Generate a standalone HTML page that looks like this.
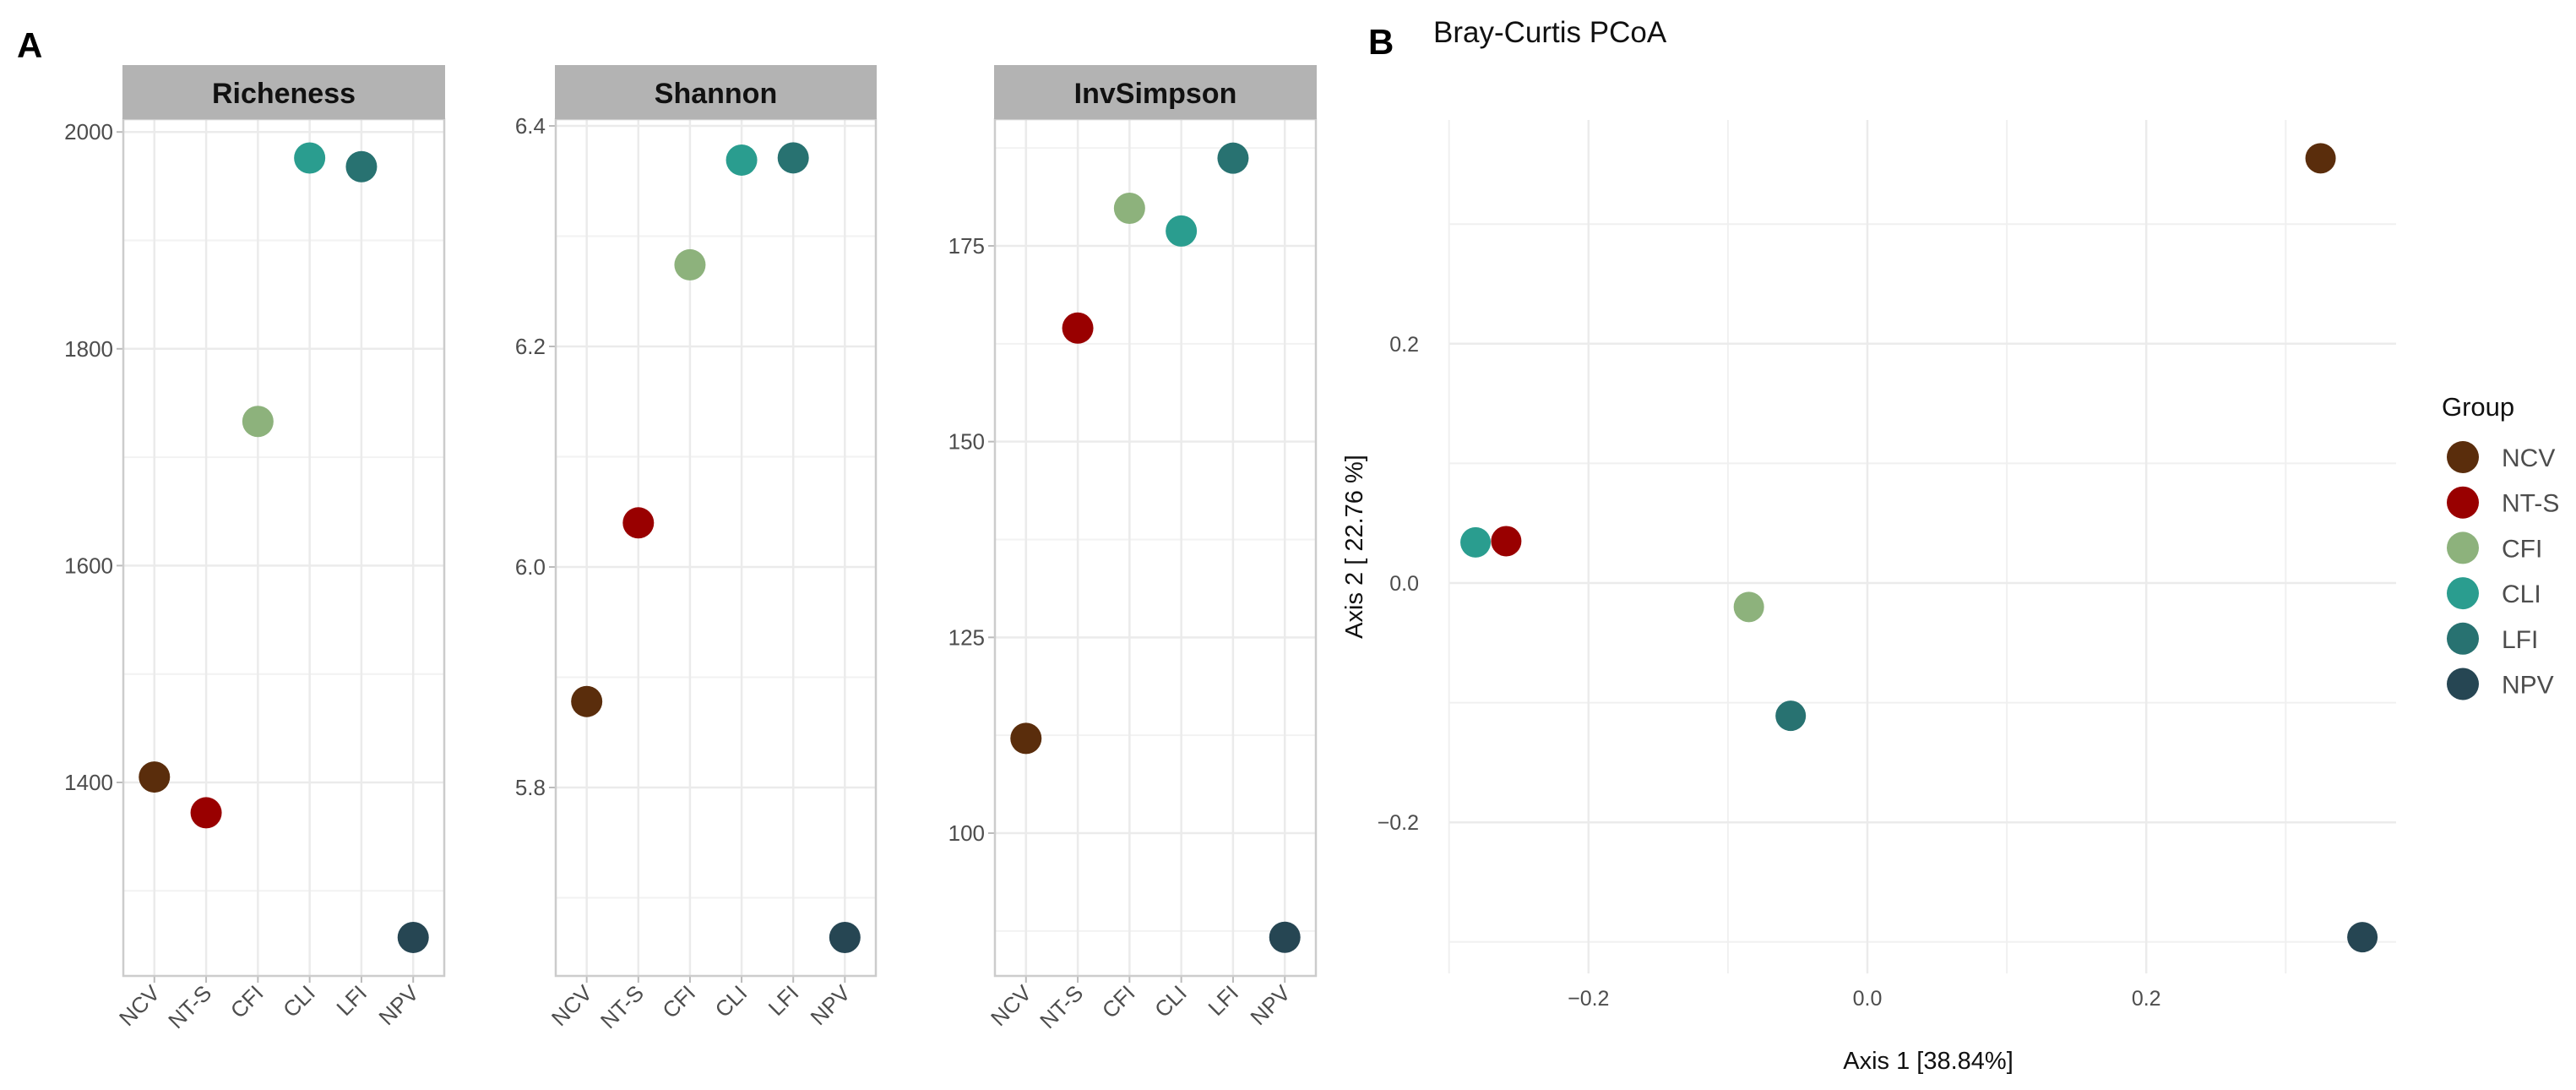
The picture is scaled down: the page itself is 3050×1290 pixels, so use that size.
<!DOCTYPE html>
<html><head><meta charset="utf-8"><style>
html,body{margin:0;padding:0;background:#fff}
svg{display:block;font-family:"Liberation Sans",Arial,sans-serif}
</style></head><body>
<svg id="fig" width="3050" height="1290" viewBox="0 0 3050 1290" xmlns="http://www.w3.org/2000/svg">
<text x="20" y="68" font-size="42" font-weight="bold">A</text>
<text x="1620" y="64" font-size="42" font-weight="bold">B</text>
<text x="1697" y="50" font-size="35" fill="#111">Bray-Curtis PCoA</text>
<g id="alpha"></g>
<g id="pcoa"></g>
</svg>
<script>
const groups = ["NCV","NT-S","CFI","CLI","LFI","NPV"];
const colors = ["#5a2d0c","#990000","#8db27c","#2a9d8f","#287271","#264653"];
const richness = [1405,1372,1733,1976,1968,1257];
const shannon = [5.878,6.04,6.274,6.369,6.371,5.664];
const invsimpson = [112.1,164.5,179.8,176.9,186.2,86.7];
const richTicks = [1400,1600,1800,2000];
const shanTicks = [5.8,6.0,6.2,6.4];
const invTicks = [100,125,150,175];
const pcoaX = [0.325,-0.259,-0.085,-0.281,-0.055,0.355];
const pcoaY = [0.355,0.035,-0.020,0.034,-0.111,-0.296];
const pcoaXTicks = [-0.2,0.0,0.2];
const pcoaYTicks = [-0.2,0.0,0.2];

const NS="http://www.w3.org/2000/svg";
function mk(tag, attrs, parent, txt){
  const e=document.createElementNS(NS,tag);
  for(const k in attrs) e.setAttribute(k, attrs[k]);
  if(txt!==undefined) e.textContent=txt;
  parent.appendChild(e); return e;
}
const alpha=document.getElementById('alpha');
const panels=[
  {title:"Richeness",vals:richness,ticks:richTicks,x0:146,x1:526,refV:1400,refY:926,ppu:1.283,minor:100,dec:0},
  {title:"Shannon",vals:shannon,ticks:shanTicks,x0:658,x1:1037,refV:5.8,refY:932,ppu:1305,minor:0.1,dec:1},
  {title:"InvSimpson",vals:invsimpson,ticks:invTicks,x0:1178,x1:1558,refV:100,refY:986,ppu:9.267,minor:12.5,dec:0}
];
const aTop=141, aBot=1155;
panels.forEach((p,pi)=>{
  const g=mk('g',{},alpha);
  
  
  const y=v=>p.refY-(v-p.refV)*p.ppu;
  const step=(p.x1-p.x0)/6.2;
  const x=i=>p.x0+step*(0.6+i);
  const vTop=p.refV+(p.refY-aTop)/p.ppu;
  for(let t=p.ticks[0]-p.minor; t<=vTop; t+=p.minor*2){
    const yy=y(t); if(yy>aTop && yy<aBot){
      const l=mk('line',{x1:p.x0,x2:p.x1,y1:yy,y2:yy,stroke:"#f2f2f2","stroke-width":2},g);
      
      
    }
  }
  p.ticks.forEach(t=>{
    const yy=y(t);
    const l=mk('line',{x1:p.x0,x2:p.x1,y1:yy,y2:yy,stroke:"#ebebeb","stroke-width":2.5},g);
    
    
    mk('line',{x1:p.x0-8,x2:p.x0,y1:yy,y2:yy,stroke:"#bbb","stroke-width":2},g);
    const tx=mk('text',{x:p.x0-12,y:yy+9,"font-size":26,fill:"#4d4d4d","text-anchor":"end"},g,t.toFixed(p.dec));
    
    
  });
  groups.forEach((gname,i)=>{
    const l=mk('line',{x1:x(i),x2:x(i),y1:aTop,y2:aBot,stroke:"#ebebeb","stroke-width":2.5},g);
    
    
    mk('line',{x1:x(i),x2:x(i),y1:aBot,y2:aBot+8,stroke:"#bbb","stroke-width":2},g);
    const tx=mk('text',{x:x(i)+8,y:aBot+22,"font-size":26,fill:"#4d4d4d","text-anchor":"end",transform:`rotate(-45 ${x(i)+8} ${aBot+22})`},g,gname);
    
    
  });
  const fr=mk('rect',{x:p.x0,y:aTop,width:p.x1-p.x0,height:aBot-aTop,fill:"none",stroke:"#cccccc","stroke-width":2.5},g);
  
  
  const st=mk('rect',{x:p.x0-1,y:77,width:p.x1-p.x0+2,height:64,fill:"#b3b3b3"},g);
  
  
  const stt=mk('text',{x:(p.x0+p.x1)/2,y:122,"font-size":34,"font-weight":"bold",fill:"#111","text-anchor":"middle"},g,p.title);
  
  
  p.vals.forEach((v,i)=>{
    const c=mk('circle',{cx:x(i),cy:y(v),r:18.5,fill:colors[i]},g);
    
    
  });
});

const pc=document.getElementById('pcoa');
const px0=1716, px1=2837, ptop=142, pbot=1152;
const X=v=>2211+v*1651;
const Y=v=>690-v*1416;
for(let t=-0.3;t<=0.31;t+=0.2){
  const yy=Y(t);
  const l=mk('line',{x1:px0,x2:px1,y1:yy,y2:yy,stroke:"#f0f0f0","stroke-width":2},pc);
  
  
  const xx=X(t);
  const l2=mk('line',{x1:xx,x2:xx,y1:ptop,y2:pbot,stroke:"#f0f0f0","stroke-width":2},pc);
  
  
}
pcoaYTicks.forEach(t=>{
  const yy=Y(t);
  const l=mk('line',{x1:px0,x2:px1,y1:yy,y2:yy,stroke:"#ebebeb","stroke-width":2.5},pc);
  
  
  const tx=mk('text',{x:1680,y:yy+9,"font-size":25,fill:"#4d4d4d","text-anchor":"end"},pc,(t<0?"\u2212"+Math.abs(t).toFixed(1):t.toFixed(1)));
  
  
});
pcoaXTicks.forEach(t=>{
  const xx=X(t);
  const l=mk('line',{x1:xx,x2:xx,y1:ptop,y2:pbot,stroke:"#ebebeb","stroke-width":2.5},pc);
  
  
  const tx=mk('text',{x:xx,y:1190,"font-size":25,fill:"#4d4d4d","text-anchor":"middle"},pc,(t<0?"\u2212"+Math.abs(t).toFixed(1):t.toFixed(1)));
  
  
});
const xt=mk('text',{x:2283,y:1265,"font-size":29,fill:"#111","text-anchor":"middle"},pc,"Axis 1 [38.84%]");


const yt=mk('text',{x:1613,y:647,"font-size":29,fill:"#111","text-anchor":"middle",transform:"rotate(-90 1613 647)"},pc,"Axis 2  [ 22.76 %]");


groups.forEach((gname,i)=>{
  const c=mk('circle',{cx:X(pcoaX[i]),cy:Y(pcoaY[i]),r:18,fill:colors[i]},pc);
  
  
});
const lt=mk('text',{x:2891,y:492,"font-size":31,fill:"#111"},pc,"Group");


groups.forEach((gname,i)=>{
  const yy=541+i*53.7;
  const lg=mk('g',{},pc);
  
  
  mk('circle',{cx:2916,cy:yy,r:19,fill:colors[i]},lg);
  mk('text',{x:2962,y:yy+11,"font-size":30,fill:"#4d4d4d"},lg,gname);
});
</script>
</body></html>
